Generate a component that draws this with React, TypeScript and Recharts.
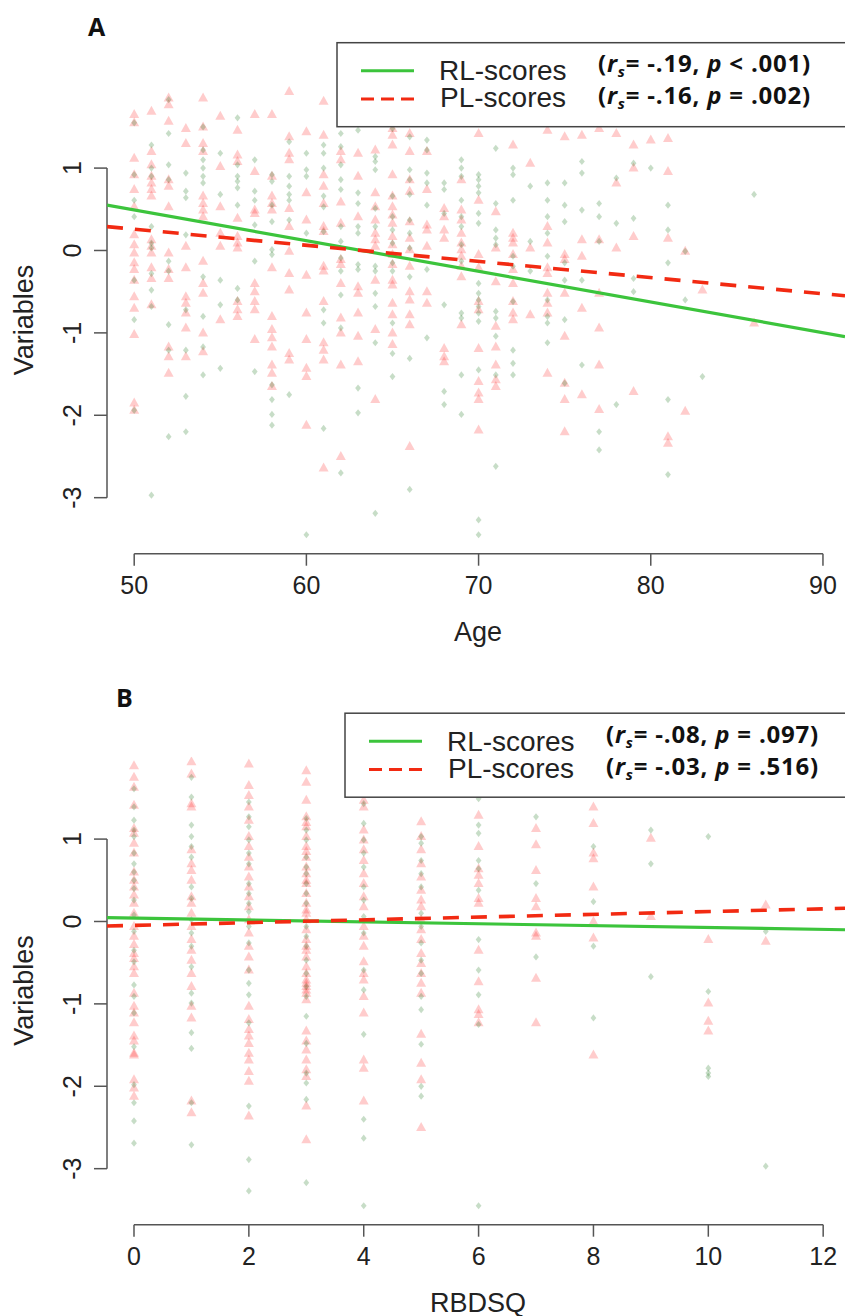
import React from "react"
import { ComposedChart, Scatter, XAxis, YAxis, ReferenceLine } from "recharts"

// values; [x, y values]
const ageRL: [number, number[]][] = [
  [50, [1.55, 0.92, 0.61, 0.41, -0.36, -0.84, -1.94]],
  [51, [1.28, 1.0, 0.9, 0.29, 0.09, 0.03, -0.28, -0.48, -0.68, -2.97]],
  [52, [1.83, 1.42, 1.04, 0.86, -0.13, -0.25, -0.9, -1.21, -2.26]],
  [53, [0.94, 0.72, 0.64, 0.19, -0.72, -1.21, -1.77, -2.2]],
  [54, [1.5, 1.22, 1.1, 1.0, 0.9, 0.82, -0.32, -0.8, -1.17, -1.51]],
  [55, [1.18, 0.68, -0.36, -0.66, -1.43]],
  [56, [1.61, 1.04, 0.9, 0.84, 0.76, 0.55, -0.46, -0.6]],
  [57, [1.1, 0.72, 0.61, 0.31, -0.13, -1.47]],
  [58, [0.92, 0.84, 0.55, 0.35, 0.01, -0.05, -1.63, -1.81, -1.99, -2.12]],
  [59, [1.32, 0.9, 0.78, 0.68, 0.61, 0.37, -1.75]],
  [60, [1.18, 0.98, 0.9, 0.21, -3.45]],
  [61, [1.28, 1.18, 1.0, 0.66, 0.53, 0.23, -0.72, -0.88, -2.16]],
  [62, [1.42, 1.26, 1.04, 0.86, 0.74, 0.29, 0.11, -0.09, -0.25, -0.54, -0.94, -2.7]],
  [63, [1.46, 0.7, 0.57, 0.29, 0.21, -0.17, -0.23, -1.67, -1.97]],
  [64, [1.14, 1.08, 0.98, 0.51, 0.29, -0.19, -0.25, -0.52, -0.68, -1.12, -3.19]],
  [65, [1.48, 0.66, 0.41, 0.25, 0.09, -0.15, -0.25, -0.88, -1.25, -1.53]],
  [66, [1.38, 0.98, 0.86, 0.68, 0.37, 0.21, 0.03, -0.32, -1.31, -2.9]],
  [67, [1.34, 1.22, 0.94, 0.82, 0.55, -0.23, -1.06]],
  [68, [0.82, 0.74, 0.45, -0.66, -1.71, -1.87]],
  [69, [1.1, 1.0, 0.9, 0.61, 0.41, 0.29, 0.07, -0.13, -0.76, -0.82, -1.51, -1.99]],
  [70, [0.92, 0.86, 0.78, 0.7, 0.45, 0.33, -0.4, -0.52, -0.6, -0.68, -0.76, -0.86, -1.45, -3.27, -3.45]],
  [71, [1.24, 0.57, 0.25, 0.15, 0.07, -0.74, -0.82, -1.04, -1.51, -2.62]],
  [72, [1.0, 0.92, 0.61, -0.07, -0.19, -0.62, -1.21, -1.37, -1.51]],
  [73, [0.78, 0.11, -0.25]],
  [74, [0.82, 0.61, 0.41, 0.21, -0.07, -0.6, -0.8, -0.88, -1.12]],
  [75, [0.82, 0.55, 0.35, -0.15, -0.36, -0.84, -1.61]],
  [76, [1.08, 0.94, 0.49, -0.36, -1.39]],
  [77, [0.57, 0.41, 0.11, -2.2, -2.42]],
  [78, [0.88, 0.33, -1.87]],
  [79, [1.06, 0.39, -0.34, -0.5]],
  [80, [1.0]],
  [81, [0.55, 0.25, -0.15, -1.81, -2.72]],
  [82, [-0.01, -0.6]],
  [83, [-1.53]],
  [86, [0.68]],
]

const agePL: [number, number[]][] = [
  [50, [1.65, 1.55, 1.12, 0.92, 0.74, 0.53, 0.19, 0.07, -0.03, -0.15, -0.23, -0.36, -0.56, -0.7, -1.02, -1.85, -1.94]],
  [51, [1.69, 1.2, 1.04, 0.9, 0.82, 0.74, 0.66, 0.13, 0.05, -0.03, -0.21, -0.34, -0.66]],
  [52, [1.85, 1.77, 1.57, 0.86, 0.78, 0.53, -0.03, -0.23, -0.34, -1.17, -1.29, -1.49]],
  [53, [1.48, 1.3, 0.05, -0.21, -0.56, -0.64, -0.76, -0.94, -1.29]],
  [54, [1.85, 1.5, 1.3, 1.2, 0.66, 0.57, 0.49, 0.41, -0.13, -0.4, -0.52, -1.0, -1.23]],
  [55, [1.63, 1.02, 0.53, 0.21, 0.05, -0.84]],
  [56, [1.46, 1.16, 1.08, 0.39, 0.17, 0.09, 0.03, -0.62, -0.72, -0.8]],
  [57, [1.65, 0.96, 0.49, 0.45, -0.4, -0.5, -0.62, -0.72, -1.08]],
  [58, [1.65, 0.9, 0.66, 0.57, 0.49, -0.21, -0.8, -0.96, -1.06, -1.17, -1.39, -1.49, -1.65]],
  [59, [1.93, 1.38, 1.18, 1.1, 0.51, 0.29, -0.01, -0.28, -0.48, -1.25, -1.33]],
  [60, [1.44, 0.7, 0.37, -0.3, -0.76, -1.08, -1.43, -1.53, -2.12]],
  [61, [1.81, 1.4, 0.92, 0.78, 0.57, 0.29, 0.23, -0.19, -0.25, -0.62, -1.12, -1.21, -1.33, -2.64]],
  [62, [1.2, 1.1, 0.59, 0.33, -0.11, -0.17, -0.4, -0.82, -1.0, -1.39, -2.5]],
  [63, [1.18, 0.9, 0.41, -0.44, -0.52, -0.76, -1.04, -1.35]],
  [64, [1.22, 0.7, 0.53, 0.37, 0.21, 0.13, 0.05, -0.36, -0.96, -1.81]],
  [65, [1.48, 1.4, 1.28, 0.92, 0.66, 0.53, 0.43, 0.33, 0.17, 0.07, -0.05, -0.17, -0.36, -0.42, -0.64, -0.78, -1.0, -1.14]],
  [66, [1.42, 1.2, 0.86, 0.72, 0.35, 0.15, 0.01, -0.19, -0.5, -0.6, -0.78, -0.9, -2.38]],
  [67, [1.2, 0.74, 0.31, 0.25, 0.05, -0.5, -0.64]],
  [68, [0.51, 0.41, 0.25, 0.15, -1.19, -1.29, -1.35]],
  [69, [0.86, 0.49, 0.37, 0.21, 0.09, 0.01, -0.07, -0.19, -0.32, -0.9]],
  [70, [1.42, 0.61, -0.05, -0.21, -0.62, -0.72, -1.19, -1.59, -1.73, -1.81, -2.18]],
  [71, [0.47, 0.03, -0.38, -0.92, -1.17, -1.39, -1.57, -1.65]],
  [72, [1.28, 0.21, 0.15, 0.09, -0.05, -0.23, -0.4, -0.62, -0.76, -0.84]],
  [73, [1.06, 0.03, -0.78]],
  [74, [1.46, 0.29, 0.09, -0.21, -0.28, -0.52, -0.64, -0.76, -1.49]],
  [75, [1.38, -0.05, -0.11, -0.52, -1.04, -1.61, -1.81, -2.2]],
  [76, [1.4, 0.13, -0.07, -0.7, -1.75]],
  [77, [1.48, 0.13, -0.52, -0.94, -1.39, -1.93]],
  [78, [1.42, 0.82, 0.03]],
  [79, [1.28, 1.0, 0.17, -1.71]],
  [80, [1.34]],
  [81, [1.36, 0.96, 0.15, -2.26, -2.34]],
  [82, [-0.01, -1.95]],
  [83, [-0.48]],
  [86, [-0.88]],
]

const rbdRL: [number, number[]][] = [
  [0, [1.61, 1.39, 1.23, 1.11, 1.03, 0.83, 0.7, 0.6, 0.5, 0.4, 0.26, 0.08, -0.12, -0.35, -0.49, -0.77, -0.91, -1.11, -1.52, -1.98, -2.2, -2.42, -2.69]],
  [1, [1.75, 1.51, 1.17, 1.03, 0.91, 0.78, 0.42, 0.28, 0.02, -0.14, -0.3, -0.55, -0.87, -0.99, -1.35, -1.54, -2.2, -2.71]],
  [2, [1.45, 1.27, 1.15, 0.99, 0.83, 0.7, 0.46, 0.34, 0.22, 0.12, -0.06, -0.26, -0.59, -0.75, -0.89, -1.23, -2.24, -2.89, -3.27]],
  [3, [1.25, 1.11, 0.99, 0.78, 0.66, 0.58, 0.46, 0.34, 0.22, -0.06, -0.18, -0.3, -0.47, -0.63, -0.79, -0.91, -1.15, -1.48, -1.84, -1.96, -2.16, -3.17]],
  [4, [1.43, 1.19, 0.99, 0.83, 0.66, 0.42, 0.26, 0.06, -0.14, -0.59, -0.83, -1.37, -2.4, -2.63, -3.45]],
  [5, [1.03, 0.95, 0.74, 0.58, 0.42, 0.1, -0.06, -0.26, -0.47, -0.63, -0.91, -1.07, -1.49, -2.0, -2.12]],
  [6, [1.49, 1.17, 1.07, 0.74, 0.64, 0.38, -0.22, -0.59, -0.89, -1.25, -3.45]],
  [7, [1.27, 0.46, -0.43]],
  [8, [0.91, 0.24, -0.3, -1.17]],
  [9, [1.11, 0.7, -0.67]],
  [10, [1.03, -0.85, -1.78, -1.84, -1.88]],
  [11, [-0.12, -2.97]],
]

const rbdPL: [number, number[]][] = [
  [0, [1.89, 1.75, 1.63, 1.41, 1.13, 1.07, 0.95, 0.83, 0.6, 0.5, 0.42, 0.32, 0.22, 0.1, -0.06, -0.18, -0.28, -0.39, -0.45, -0.55, -0.63, -0.87, -1.03, -1.11, -1.23, -1.39, -1.45, -1.6, -1.62, -1.92, -2.02, -2.12]],
  [1, [1.94, 1.79, 1.43, 1.39, 0.87, 0.7, 0.62, 0.5, 0.3, 0.22, 0.1, -0.06, -0.22, -0.35, -0.47, -0.63, -0.79, -1.03, -1.17, -2.18, -2.32]],
  [2, [1.91, 1.65, 1.53, 1.39, 1.23, 1.03, 0.91, 0.78, 0.66, 0.54, 0.42, 0.3, 0.18, 0.02, -0.14, -0.3, -0.43, -0.59, -1.03, -1.19, -1.31, -1.39, -1.48, -1.6, -1.68, -1.82, -1.94, -2.36]],
  [3, [1.83, 1.69, 1.47, 1.27, 1.2, 1.15, 1.03, 0.91, 0.85, 0.78, 0.66, 0.58, 0.5, 0.46, 0.34, 0.22, 0.14, 0.1, 0.02, -0.1, -0.22, -0.3, -0.35, -0.43, -0.55, -0.63, -0.71, -0.75, -0.79, -0.83, -0.87, -0.95, -1.33, -1.45, -1.56, -1.68, -1.8, -1.88, -2.24, -2.65]],
  [4, [1.47, 1.39, 1.11, 0.99, 0.87, 0.74, 0.58, 0.46, 0.3, 0.18, -0.06, -0.18, -0.3, -0.49, -0.63, -0.71, -0.91, -1.11, -1.68, -1.78, -2.18]],
  [5, [1.21, 1.03, 0.87, 0.7, 0.54, 0.38, 0.26, 0.18, 0.02, -0.1, -0.22, -0.39, -0.51, -0.63, -0.75, -0.87, -1.37, -1.72, -1.92, -2.5]],
  [6, [1.29, 0.91, 0.64, 0.56, 0.46, 0.28, 0.22, -0.35, -0.73, -1.07, -1.13, -1.23]],
  [7, [1.13, 0.93, 0.62, 0.28, 0.18, -0.14, -0.18, -0.69, -1.23]],
  [8, [1.39, 1.19, 0.83, 0.76, 0.42, 0.0, -0.2, -1.62]],
  [9, [1.01, 0.06]],
  [10, [-0.22, -0.99, -1.21, -1.33]],
  [11, [0.2, -0.24]],
]

// fitted lines, end points read at the plot edges
const ageFitRL = [{ x: 48.42, y: 0.55 }, { x: 91.28, y: -1.045 }]
const ageFitPL = [{ x: 48.42, y: 0.29 }, { x: 91.28, y: -0.55 }]
const rbdFitRL = [{ x: -0.47, y: 0.046 }, { x: 12.38, y: -0.1 }]
const rbdFitPL = [{ x: -0.47, y: -0.055 }, { x: 12.38, y: 0.16 }]

const ageTicks = [50, 60, 70, 80, 90]
const rbdTicks = [0, 2, 4, 6, 8, 10, 12]
const yTicks = [-3, -2, -1, 0, 1]

const SANS = "'Liberation Sans', Arial, sans-serif"
const BOLD = "'Open Sans', Lato, sans-serif"
const GREEN = "#3cc43c"
const RED = "#f22a12"
const AXIS = "#555"

const flat = (cols: [number, number[]][]) =>
  cols.flatMap(([x, ys]) => ys.map((y) => ({ x, y })))

const Triangle = (p: any) => (
  <polygon
    points={`${p.cx},${p.cy - 5.5} ${p.cx - 5},${p.cy + 3.5} ${p.cx + 5},${p.cy + 3.5}`}
    fill="rgba(255,0,0,0.2)"
  />
)
const Diamond = (p: any) => (
  <polygon
    points={`${p.cx},${p.cy - 3.6} ${p.cx + 2.9},${p.cy} ${p.cx},${p.cy + 3.6} ${p.cx - 2.9},${p.cy}`}
    fill="rgba(0,100,0,0.22)"
  />
)
const NoDot = () => <g />

const YTick = (p: any) => (
  <text
    x={81}
    y={p.y}
    transform={`rotate(-90 81 ${p.y})`}
    textAnchor="middle"
    fontSize={25}
    fontFamily={SANS}
    fill="#222"
  >
    {p.payload.value}
  </text>
)

interface PanelProps {
  height: number
  rl: [number, number[]][]
  pl: [number, number[]][]
  fitRL: { x: number; y: number }[]
  fitPL: { x: number; y: number }[]
  domain: [number, number]
  ticks: number[]
}

const Y_DOMAIN: [number, number] = [-3.68, 2.0]

function Panel({ height, rl, pl, fitRL, fitPL, domain, ticks }: PanelProps) {
  const axisY = Y_DOMAIN[0]
  return (
    <ComposedChart
      width={845}
      height={height}
      margin={{ top: 85.7, right: 0, bottom: height - 553.7 - 60, left: 0 }}
    >
      <XAxis
        type="number"
        dataKey="x"
        domain={domain}
        ticks={ticks}
        interval={0}
        allowDataOverflow
        height={60}
        axisLine={false}
        tickSize={12}
        tickMargin={11}
        tickLine={{ stroke: AXIS, strokeWidth: 1.5 }}
        tick={{ fontSize: 25, fill: "#222", fontFamily: SANS }}
      />
      <YAxis
        type="number"
        dataKey="y"
        domain={Y_DOMAIN}
        ticks={yTicks}
        interval={0}
        allowDataOverflow
        width={107}
        axisLine={false}
        tickSize={13}
        tickLine={{ stroke: AXIS, strokeWidth: 1.5 }}
        tick={<YTick />}
      />
      <ReferenceLine
        segment={[{ x: ticks[0], y: axisY }, { x: ticks[ticks.length - 1], y: axisY }]}
        stroke={AXIS}
        strokeWidth={1.5}
        ifOverflow="visible"
      />
      <ReferenceLine
        segment={[{ x: domain[0], y: -3 }, { x: domain[0], y: 1 }]}
        stroke={AXIS}
        strokeWidth={1.5}
        ifOverflow="visible"
      />
      <Scatter data={flat(pl)} shape={Triangle} isAnimationActive={false} />
      <Scatter data={flat(rl)} shape={Diamond} isAnimationActive={false} />
      <Scatter
        data={fitRL}
        shape={NoDot}
        line={{ stroke: GREEN, strokeWidth: 3.2 }}
        isAnimationActive={false}
      />
      <Scatter
        data={fitPL}
        shape={NoDot}
        line={{ stroke: RED, strokeWidth: 3.6, strokeDasharray: "16 12" }}
        isAnimationActive={false}
      />
    </ComposedChart>
  )
}

function Stat({ x, y, r, p }: { x: number; y: number; r: string; p: string }) {
  return (
    <text x={x} y={y} fontFamily={BOLD} fontWeight={700} fontSize={24} letterSpacing={0.8} fill="#111">
      (<tspan fontStyle="italic">r</tspan>
      <tspan fontStyle="italic" fontSize={15} dy={5}>s</tspan>
      <tspan dy={-5}>{`= ${r}, `}</tspan>
      <tspan fontStyle="italic">p</tspan>
      {` ${p})`}
    </text>
  )
}

function Overlay({ dx, dy, letter, letterX, xLabel, rRL, pRL, rPL, pPL }: any) {
  return (
    <g>
      <text x={letterX} y={dy + 36} fontFamily={BOLD} fontWeight={700} fontSize={25} fill="#111">
        {letter}
      </text>
      <rect x={337 + dx} y={dy + 42.7} width={560} height={84} fill="#fff" stroke="#444" strokeWidth={1.5} />
      <line x1={361 + dx} x2={414 + dx} y1={dy + 70.7} y2={dy + 70.7} stroke={GREEN} strokeWidth={3} />
      <line x1={361 + dx} x2={414 + dx} y1={dy + 99} y2={dy + 99} stroke={RED} strokeWidth={3} strokeDasharray="13 7" />
      <text x={439 + dx} y={dy + 80} fontFamily={SANS} fontSize={28} fill="#222">RL-scores</text>
      <text x={440 + dx} y={dy + 107} fontFamily={SANS} fontSize={28} fill="#222">PL-scores</text>
      <Stat x={598 + dx} y={dy + 72} r={rRL} p={pRL} />
      <Stat x={598 + dx} y={dy + 104} r={rPL} p={pPL} />
      <text x={478} y={dy + 641} textAnchor="middle" fontFamily={SANS} fontSize={27} fill="#222">
        {xLabel}
      </text>
      <text
        x={33}
        y={dy + 320}
        transform={`rotate(-90 33 ${dy + 320})`}
        textAnchor="middle"
        fontFamily={SANS}
        fontSize={27}
        fill="#222"
      >
        Variables
      </text>
    </g>
  )
}

export default function App() {
  return (
    <div style={{ position: "absolute", left: 0, top: 0, width: 845, height: 1316, background: "#fff", overflow: "hidden" }}>
      <div style={{ position: "absolute", left: 0, top: 0 }}>
        <Panel height={671} rl={ageRL} pl={agePL} fitRL={ageFitRL} fitPL={ageFitPL} domain={[48.42, 91.28]} ticks={ageTicks} />
      </div>
      <div style={{ position: "absolute", left: 0, top: 671 }}>
        <Panel height={645} rl={rbdRL} pl={rbdPL} fitRL={rbdFitRL} fitPL={rbdFitPL} domain={[-0.47, 12.38]} ticks={rbdTicks} />
      </div>
      <svg width={845} height={1316} style={{ position: "absolute", left: 0, top: 0, pointerEvents: "none" }}>
        <Overlay dx={0} dy={0} letter="A" letterX={88} xLabel="Age" rRL="-.19" pRL="< .001" rPL="-.16" pPL="= .002" />
        <Overlay dx={8} dy={670.5} letter="B" letterX={116} xLabel="RBDSQ" rRL="-.08" pRL="= .097" rPL="-.03" pPL="= .516" />
      </svg>
    </div>
  )
}
